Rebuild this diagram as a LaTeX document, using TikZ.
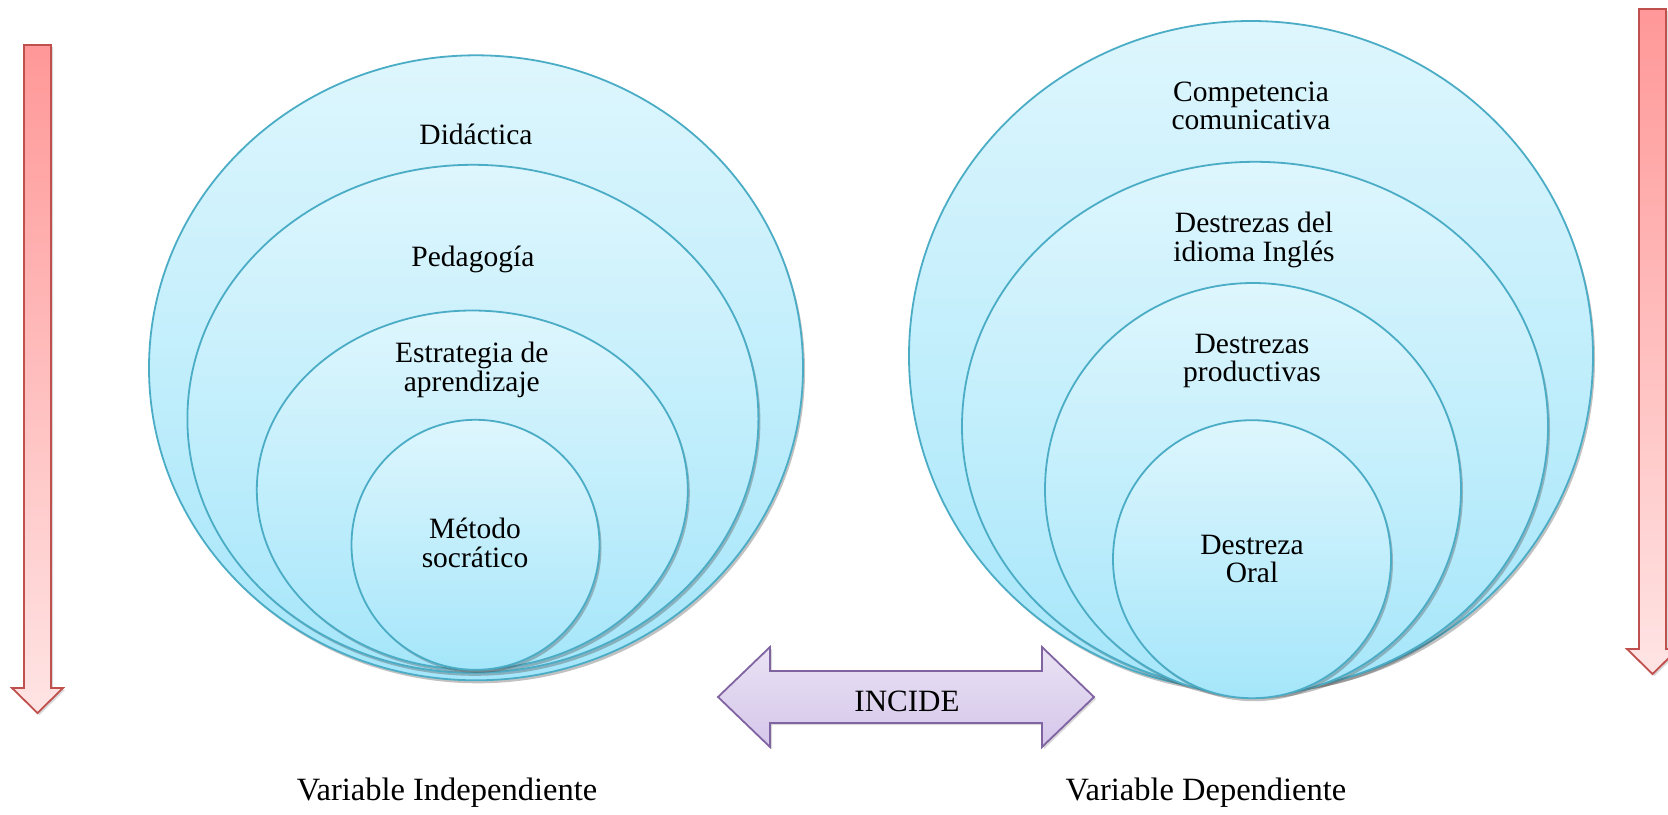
\documentclass[tikz,border=0pt]{standalone}
\usepackage{fontspec}
\setmainfont{Liberation Serif}
\usetikzlibrary{shapes.geometric,shadows}
\definecolor{bubtop}{RGB}{222,246,253}
\definecolor{bubbot}{RGB}{165,230,250}
\definecolor{bubline}{RGB}{75,172,198}
\definecolor{redtop}{RGB}{255,152,152}
\definecolor{redbot}{RGB}{255,228,228}
\definecolor{redline}{RGB}{192,80,77}
\definecolor{purtop}{RGB}{234,226,244}
\definecolor{purbot}{RGB}{212,198,234}
\definecolor{purline}{RGB}{128,100,162}
\tikzset{
  bub/.style={ellipse, draw=bubline, line width=1.8pt, inner sep=0pt,
    top color=bubtop, bottom color=bubbot,
    drop shadow={shadow xshift=2pt, shadow yshift=-3pt, opacity=0.35, fill=black!70}},
  lbl/.style={align=center, font=\fontsize{29.5}{28.5}\selectfont, inner sep=0pt},
  biglbl/.style={align=center, font=\fontsize{32.5}{32}\selectfont, inner sep=0pt},
  redarrow/.style={draw=redline, line width=1.8pt, top color=redtop, bottom color=redbot,
    drop shadow={shadow xshift=2pt, shadow yshift=-2pt, opacity=0.25, fill=black!60}},
  purarrow/.style={draw=purline, line width=1.8pt, top color=purtop, bottom color=purbot,
    drop shadow={shadow xshift=2pt, shadow yshift=-2pt, opacity=0.25, fill=black!60}}
}
\begin{document}
\begin{tikzpicture}[x=1pt,y=-1pt]
\useasboundingbox (0,0) rectangle (1668,814);
% left arrow
\path[redarrow] (24,45) -- (51,45) -- (51,688) -- (63,688) -- (37.5,713) -- (12,688) -- (24,688) -- cycle;
% right arrow
\path[redarrow] (1639,9) -- (1666,9) -- (1666,649) -- (1678,649) -- (1652.5,674) -- (1627,649) -- (1639,649) -- cycle;
% left set
\node[bub, minimum width=654pt, minimum height=625pt] (L1) at (476,367.8) {};
\node[bub, minimum width=571pt, minimum height=508pt] (L2) at (472.9,418.8) {};
\node[bub, minimum width=431pt, minimum height=359pt] (L3) at (472.3,490) {};
\node[bub, minimum width=248pt, minimum height=250pt] (L4) at (475.5,544.8) {};
\node[lbl] (t1) at (476,134) {Didáctica};
\node[lbl] (t2) at (472.9,259) {Pedagogía};
\node[lbl] (t3) at (471.8,370) {Estrategia de\\aprendizaje};
\node[lbl] (t4) at (475,543) {Método\\socrático};
% right set
\node[bub, minimum width=684pt, minimum height=670pt] (R1) at (1251,356) {};
\node[bub, minimum width=586pt, minimum height=529pt] (R2) at (1255,426.3) {};
\node[bub, minimum width=416pt, minimum height=413pt] (R3) at (1253,489.5) {};
\node[bub, minimum width=278pt, minimum height=278pt] (R4) at (1252,559.2) {};
\node[lbl] (s1) at (1251,106) {Competencia\\comunicativa};
\node[lbl] (s2) at (1254,240) {Destrezas del\\idioma Inglés};
\node[lbl] (s3) at (1252,361) {Destrezas\\productivas};
\node[lbl] (s4) at (1252,559) {Destreza\\Oral};
% incide arrow
\path[purarrow] (718,697) -- (770,647) -- (770,671) -- (1042,671) -- (1042,647) -- (1094,697)
  -- (1042,747) -- (1042,723) -- (770,723) -- (770,747) -- cycle;
\node[lbl, font=\fontsize{31}{30}\selectfont] (inc) at (907,701) {INCIDE};
\node[biglbl] (vi) at (447,793) {Variable Independiente};
\node[biglbl] (vd) at (1206,793) {Variable Dependiente};
\end{tikzpicture}
\end{document}
